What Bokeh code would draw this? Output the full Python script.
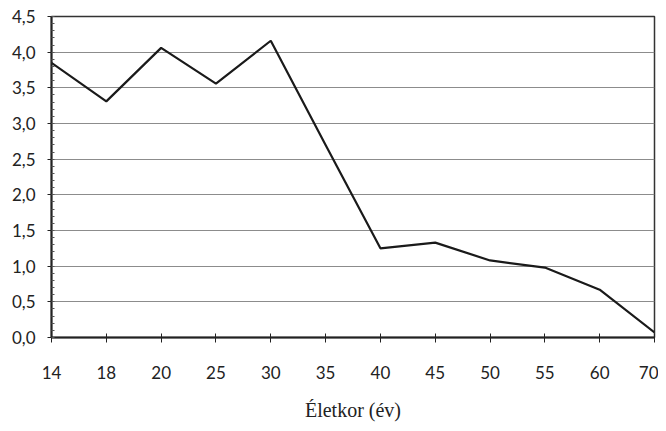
from bokeh.plotting import figure
from bokeh.models import Range1d, FixedTicker, CustomJSTickFormatter
from bokeh.embed import file_html
from bokeh.resources import INLINE

# Data
age_labels = ["14", "18", "20", "25", "30", "35", "40", "45", "50", "55", "60", "70"]
values = [3.85, 3.31, 4.06, 3.56, 4.16, 2.70, 1.25, 1.33, 1.08, 0.98, 0.67, 0.07]
y_ticks = [0.0, 0.5, 1.0, 1.5, 2.0, 2.5, 3.0, 3.5, 4.0, 4.5]
x_title = "Életkor (év)"

xs = list(range(len(age_labels)))

p = figure(width=658, height=423, output_backend="svg", toolbar_location=None,
           x_range=Range1d(0, len(age_labels) - 1), y_range=Range1d(0, 4.5),
           min_border_left=51, min_border_right=4, min_border_top=16, min_border_bottom=82)

p.line(xs, values, line_color="#1a1a1a", line_width=2.2)

# Frame
p.outline_line_color = "#333333"
p.outline_line_width = 1.5
p.background_fill_color = "white"
p.border_fill_color = "white"

# Grid
p.xgrid.visible = False
p.ygrid.ticker = FixedTicker(ticks=y_ticks)
p.ygrid.grid_line_color = "#8c8c8c"
p.ygrid.grid_line_width = 1

# Y axis
p.yaxis.ticker = FixedTicker(ticks=y_ticks, minor_ticks=[i / 10 for i in range(46)])
p.yaxis.formatter = CustomJSTickFormatter(code="return tick.toFixed(1).replace('.', ',');")
p.yaxis.major_tick_out = 4
p.yaxis.major_tick_in = 0
p.yaxis.minor_tick_in = 3
p.yaxis.minor_tick_out = 0
p.yaxis.axis_line_width = 2
p.yaxis.axis_line_color = "#222222"
p.yaxis.major_tick_line_color = "#222222"
p.yaxis.minor_tick_line_color = "#555555"
p.yaxis.major_label_text_font = "Lato"
p.yaxis.major_label_text_font_size = "17px"
p.yaxis.major_label_text_color = "#222222"
p.yaxis.major_label_standoff = 12

# X axis
p.xaxis.ticker = FixedTicker(ticks=xs)
p.xaxis.major_label_overrides = {i: lab for i, lab in enumerate(age_labels)}
p.xaxis.major_tick_out = 5
p.xaxis.major_tick_in = 4
p.xaxis.minor_tick_line_color = None
p.xaxis.axis_line_width = 2
p.xaxis.axis_line_color = "#222222"
p.xaxis.major_tick_line_color = "#222222"
p.xaxis.major_label_text_font = "Lato"
p.xaxis.major_label_text_font_size = "17px"
p.xaxis.major_label_text_color = "#222222"
p.xaxis.major_label_standoff = 23
p.xaxis.axis_label = x_title
p.xaxis.axis_label_text_font = "Liberation Serif"
p.xaxis.axis_label_text_font_style = "normal"
p.xaxis.axis_label_text_font_size = "20px"
p.xaxis.axis_label_text_color = "#222222"
p.xaxis.axis_label_standoff = 17

open("out.html", "w").write(file_html(p, INLINE))
